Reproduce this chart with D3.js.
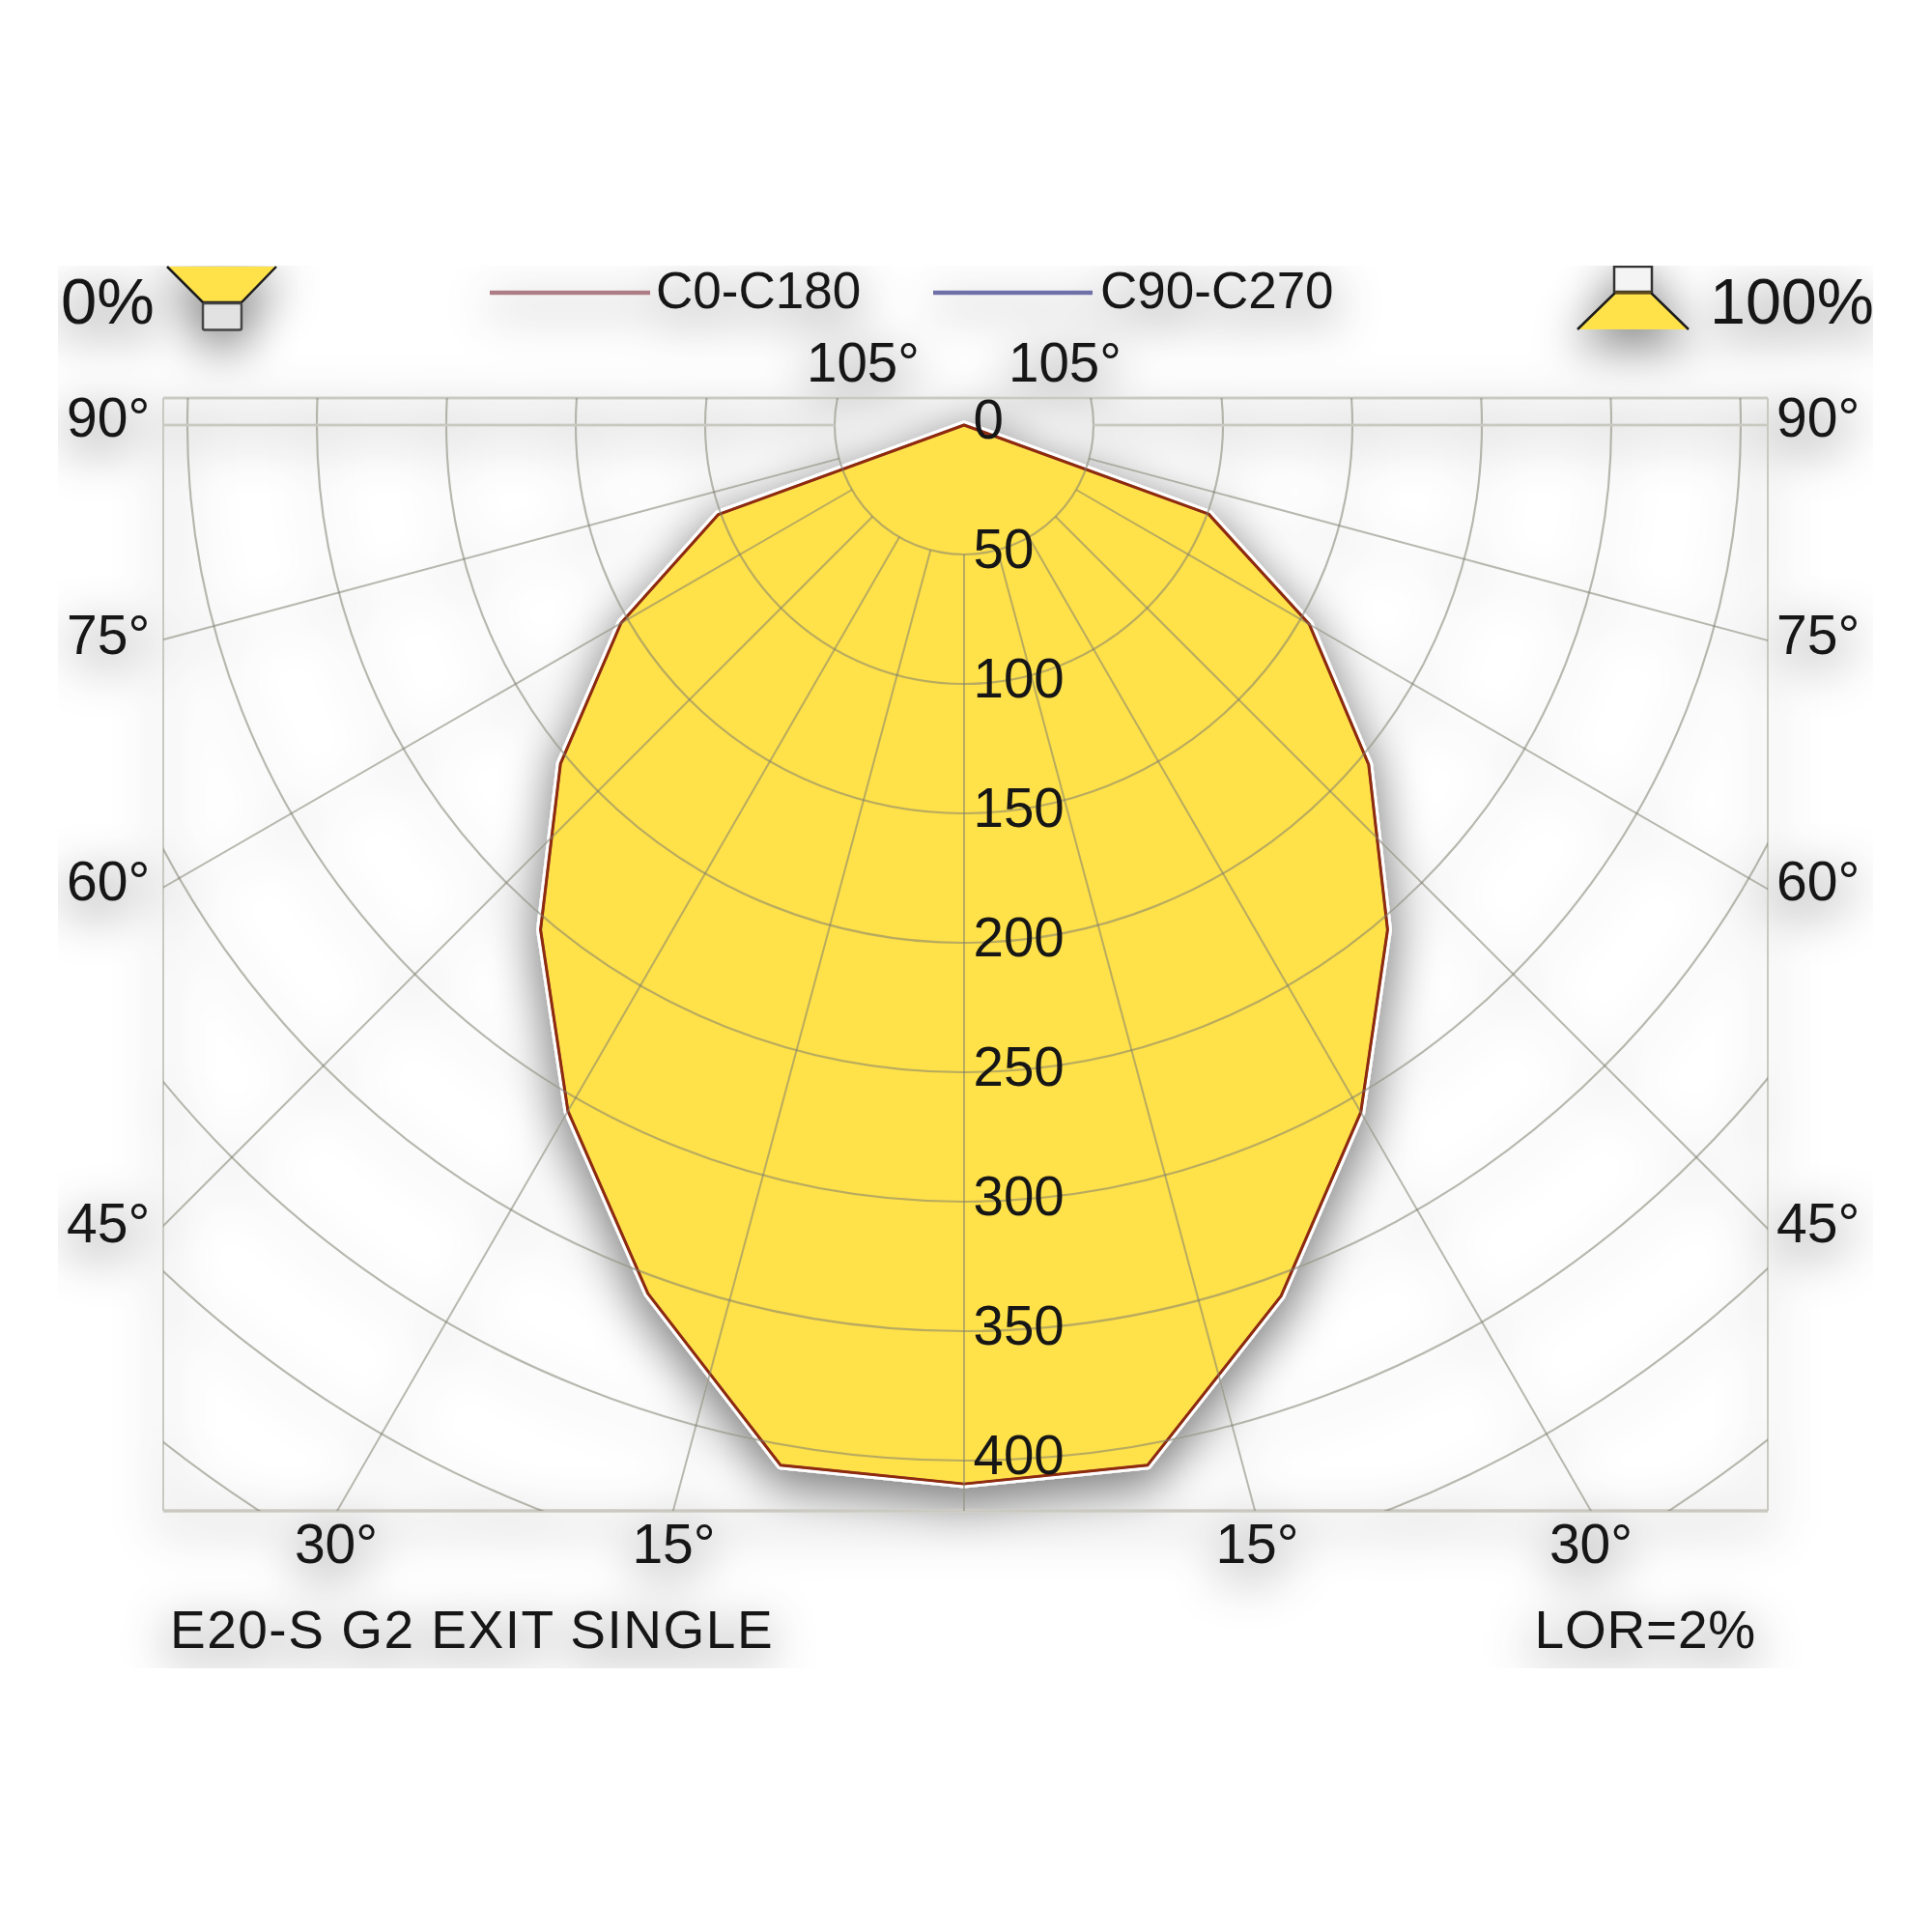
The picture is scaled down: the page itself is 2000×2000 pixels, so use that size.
<!DOCTYPE html>
<html>
<head>
<meta charset="utf-8">
<script src="https://cdn.jsdelivr.net/npm/d3@7/dist/d3.min.js"></script>
<style>
html,body{margin:0;padding:0;background:#fff}
svg{display:block}
text{font-family:"Liberation Sans",Arial,sans-serif;fill:#141414}
</style>
</head>
<body>
<div id="chart"></div>
<script>
// ---------- data ----------
const gammaAngles = [0, 10, 20, 30, 40, 50, 60, 70, 80];
const c0Values    = [409, 408, 358, 306.5, 254.5, 204, 154, 100.5, 0];
const c180Values  = [409, 408, 357, 306, 254.5, 203.5, 153, 101, 0];
const c90Values   = [409, 408, 358, 306.5, 254.5, 204, 154, 100.5, 0];
const c270Values  = [409, 408, 357, 306, 254.5, 203.5, 153, 101, 0];
const radialTicks = [50, 100, 150, 200, 250, 300, 350, 400, 450, 500];
const radialLabels = [0, 50, 100, 150, 200, 250, 300, 350, 400];
const spokeAngles = [0, 15, 30, 45, 60, 75, 90, 105];
const sideAngleLabels = [
  {label:"90°", base:452}, {label:"75°", base:677},
  {label:"60°", base:932}, {label:"45°", base:1286}
];
const bottomAngleLabels = [
  {label:"30°", x:348}, {label:"15°", x:697.5},
  {label:"15°", x:1301.5}, {label:"30°", x:1647}
];
const seriesNames = ["C0-C180", "C90-C270"];
const seriesColors = ["#ad7c84", "#6f6fa8"];
const titleText = "E20-S G2 EXIT SINGLE";
const lorText = "LOR=2%";

// ---------- layout ----------
const W = 2000, H = 2000;
const cx = 998, cy = 440;
const frame = {l:169, r:1830, t:412, b:1564};
const img = {l:60, r:1939, t:275, b:1727};
const YEL = "#ffe14a";
const r = d3.scaleLinear().domain([0,400]).range([0,1072]);
const rad = d => d*Math.PI/180;

const svg = d3.select("#chart").append("svg").attr("width",W).attr("height",H).attr("viewBox",`0 0 ${W} ${H}`);
const defs = svg.append("defs");
defs.append("clipPath").attr("id","imgClip").append("rect")
  .attr("x",img.l).attr("y",img.t).attr("width",img.r-img.l).attr("height",img.b-img.t);
defs.append("clipPath").attr("id","frameClip").append("rect")
  .attr("x",frame.l).attr("y",frame.t).attr("width",frame.r-frame.l).attr("height",frame.b-frame.t);
const f = defs.append("filter").attr("id","soft").attr("filterUnits","userSpaceOnUse")
  .attr("x",0).attr("y",0).attr("width",W).attr("height",H);
f.append("feGaussianBlur").attr("in","SourceAlpha").attr("stdDeviation",24).attr("result","b");
f.append("feOffset").attr("in","b").attr("dx",0).attr("dy",14).attr("result","o");
f.append("feComponentTransfer").attr("in","o").attr("result","s")
  .append("feFuncA").attr("type","gamma").attr("amplitude",0.52).attr("exponent",0.85).attr("offset",0);
const m = f.append("feMerge");
m.append("feMergeNode").attr("in","s");
m.append("feMergeNode").attr("in","SourceGraphic");

const outer = svg.append("g").attr("clip-path","url(#imgClip)");
const g = outer.append("g").attr("filter","url(#soft)");

// frame
const frameCol = "#c9c9c1";
g.append("line").attr("x1",frame.l).attr("x2",frame.r).attr("y1",frame.t).attr("y2",frame.t)
  .attr("stroke",frameCol).attr("stroke-width",3);
g.append("line").attr("x1",frame.l).attr("x2",frame.r).attr("y1",frame.b).attr("y2",frame.b)
  .attr("stroke",frameCol).attr("stroke-width",3.5);
g.append("line").attr("x1",frame.l).attr("x2",frame.l).attr("y1",frame.t).attr("y2",frame.b)
  .attr("stroke",frameCol).attr("stroke-width",2);
g.append("line").attr("x1",frame.r).attr("x2",frame.r).attr("y1",frame.t).attr("y2",frame.b)
  .attr("stroke",frameCol).attr("stroke-width",2);

// intensity polygon
const pts = [];
gammaAngles.slice().reverse().forEach((a,i)=>{
  const idx = gammaAngles.length-1-i;
  pts.push([rad(180+a), c180Values[idx]]);
});
gammaAngles.forEach((a,i)=>{ pts.push([rad(180-a), c0Values[i]]); });
const pts2 = [];
gammaAngles.slice().reverse().forEach((a,i)=>{
  const idx = gammaAngles.length-1-i;
  pts2.push([rad(180+a), c270Values[idx]]);
});
gammaAngles.forEach((a,i)=>{ pts2.push([rad(180-a), c90Values[i]]); });
const radial = d3.lineRadial().angle(d=>d[0]).radius(d=>r(d[1])).curve(d3.curveLinearClosed);

const plot = g.append("g").attr("transform",`translate(${cx},${cy})`);
plot.append("path").attr("d",radial(pts)).attr("fill",YEL).attr("stroke","#ffffff").attr("stroke-width",9).attr("stroke-linejoin","round");
plot.append("path").attr("d",radial(pts2)).attr("fill",YEL).attr("stroke","#6f6fa8").attr("stroke-width",2.5).attr("stroke-linejoin","round");

// grid on top of polygon
const gridCol = "rgba(125,125,110,0.54)";
const grid = g.append("g").attr("clip-path","url(#frameClip)");
grid.selectAll("circle").data(radialTicks).join("circle")
  .attr("cx",cx).attr("cy",cy).attr("r",d=>r(d))
  .attr("fill","none").attr("stroke",gridCol).attr("stroke-width",2.2);
const sides = [-1,1];
sides.forEach(s=>{
  grid.append("g").selectAll("line").data(spokeAngles.filter(a=>!(a===0&&s===1))).join("line")
    .attr("x1",a=>cx+s*r(50)*Math.sin(rad(a)))
    .attr("y1",a=>cy+r(50)*Math.cos(rad(a)))
    .attr("x2",a=>cx+s*r(900)*Math.sin(rad(a)))
    .attr("y2",a=>cy+r(900)*Math.cos(rad(a)))
    .attr("stroke",a=>a===90?frameCol:gridCol)
    .attr("stroke-width",a=>a===90?3:2);
});

// polygon outline above grid
plot.append("path").attr("d",radial(pts)).attr("fill","none").attr("stroke","#8f2a0e").attr("stroke-width",3).attr("stroke-linejoin","round");

// legend
const legendX = [[507,673,679],[966,1131,1139]];
seriesNames.forEach((n,i)=>{
  g.append("line").attr("x1",legendX[i][0]).attr("x2",legendX[i][1]).attr("y1",303).attr("y2",303)
    .attr("stroke",seriesColors[i]).attr("stroke-width",4.5);
  g.append("text").attr("x",legendX[i][2]).attr("y",319).attr("font-size",53).text(n);
});

// text
const t = (x,y,s,size,anchor,ls)=>g.append("text").attr("x",x).attr("y",y).attr("font-size",size)
  .attr("text-anchor",anchor||"start").attr("letter-spacing",ls||0).text(s);
t(63,335,"0%",67);
t(1940,335,"100%",66.5,"end");
t(835,395,"105°",56.5);
t(1044,395,"105°",56.5);
sideAngleLabels.forEach(d=>{ t(69,d.base,d.label,57); t(1839,d.base,d.label,57); });
bottomAngleLabels.forEach(d=>{ t(d.x,1618,d.label,57,"middle"); });
radialLabels.forEach(v=>{ t(1007.5,cy+r(v)+13.5,String(v),56.5); });
t(176,1706,titleText,55,"start",1.5);
t(1818,1706,lorText,55,"end",0.8);

// luminaire icons
const icon = g.append("g");
icon.append("path").attr("d","M173,276 L286,276 L250,313 L210,313 Z").attr("fill",YEL);
icon.append("path").attr("d","M173,276 L210,313 L250,313 L286,276").attr("fill","none").attr("stroke","#1a1a1a").attr("stroke-width",2.5);
icon.append("rect").attr("x",210).attr("y",314).attr("width",40).attr("height",27.5)
  .attr("fill","#e2e2e2").attr("stroke","#444").attr("stroke-width",2.5).attr("rx",2);
icon.append("path").attr("d","M1672,303 L1709,303 L1748,341 L1633,341 Z").attr("fill",YEL);
icon.append("path").attr("d","M1633,341 L1672,303 L1709,303 L1748,341").attr("fill","none").attr("stroke","#1a1a1a").attr("stroke-width",2.5);
icon.append("rect").attr("x",1671).attr("y",276).attr("width",39).attr("height",26)
  .attr("fill","#f4f4f4").attr("stroke","#333").attr("stroke-width",2.5);
icon.append("line").attr("x1",1672).attr("x2",1709).attr("y1",303).attr("y2",303).attr("stroke","#5a4a1a").attr("stroke-width",3);
</script>
</body>
</html>
